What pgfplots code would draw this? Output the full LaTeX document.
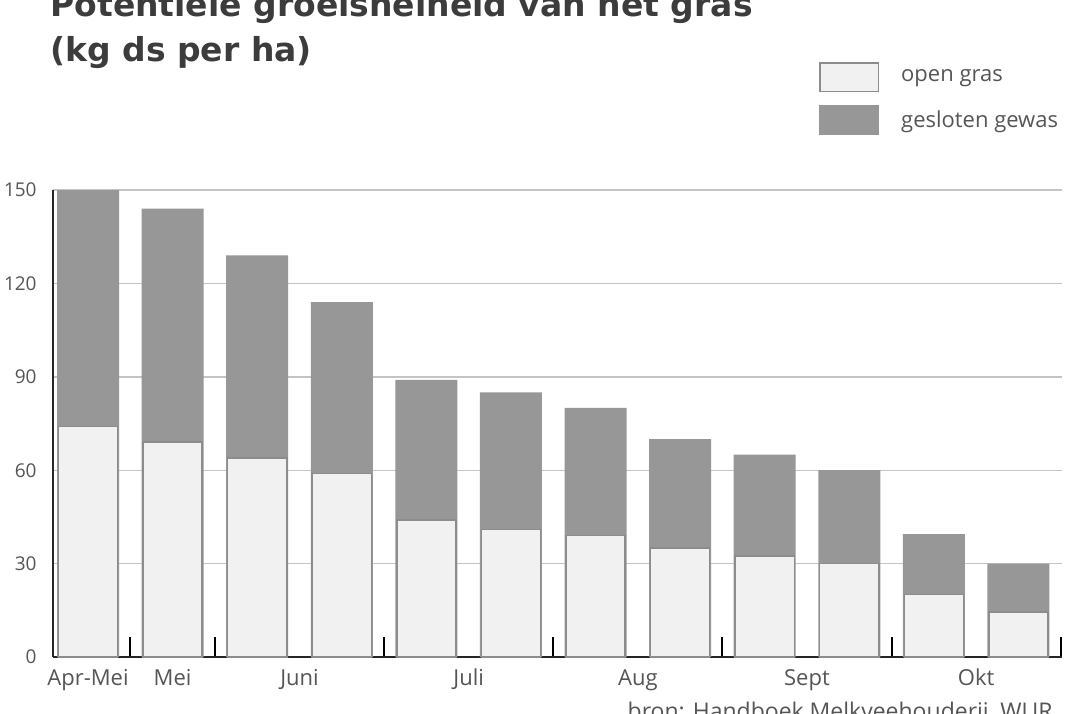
\documentclass[border=0pt]{standalone}
\usepackage{fontspec}
\setmainfont{Open Sans}
\newfontfamily\titlefont{DejaVu Sans}
\usepackage{pgfplots}
\pgfplotsset{compat=1.18}
\usepackage{pgfplotstable}
\definecolor{darkbar}{HTML}{979797}
\definecolor{lightbar}{HTML}{F1F1F1}
\definecolor{lightedge}{HTML}{8C8C8C}
\definecolor{gridc}{HTML}{C4C4C4}
\definecolor{labc}{HTML}{555555}
\definecolor{titc}{HTML}{3C3C3C}
\pgfplotstableread{
x total open
0 150 74
1 144 69
2 129 64
3 114 59
4 89 44
5 85 41
6 80 39
7 70 35
8 65 32.5
9 60 30
10 39.5 20
11 30 14.5
}\datatable
\begin{document}
\begin{tikzpicture}
\useasboundingbox (0,0) rectangle (535pt,356.5pt);
\begin{axis}[
  at={(26.5pt,28pt)}, anchor=south west,
  scale only axis, width=504.5pt, height=233.5pt,
  xmin=-0.414, xmax=11.515, ymin=0, ymax=150,
  enlargelimits=false,
  axis x line=bottom, axis y line=left,
  axis line style={-, line width=1pt, color=black!85},
  ytick={0,30,60,90,120,150},
  ymajorgrids, grid style={gridc, line width=0.7pt},
  y tick style={draw=none},
  yticklabel style={anchor=east, inner sep=0pt, xshift=-8pt, font=\fontsize{9.5pt}{11pt}\selectfont, text=labc},
  /pgf/number format/assume math mode=true,
  xtick={0.5,1.5,3.5,5.5,7.5,9.5,11.5}, xticklabels={},
  tick align=inside,
  x tick style={black, line width=1pt},
  xmajorgrids=false,
  major tick length=10pt,
  extra x ticks={0,1,2.5,4.5,6.5,8.5,10.5},
  extra x tick labels={Apr-Mei,Mei,Juni,Juli,Aug,Sept,Okt},
  extra x tick style={major tick length=0pt, grid=none, xticklabel style={anchor=base, inner sep=0pt, yshift=-14pt, font=\fontsize{11pt}{13pt}\selectfont, text=labc}},
  legend style={at={(axis description cs:0.7592,1.274)}, anchor=north west, draw=none, fill=none, inner sep=0pt,
     row sep=6.5pt, font=\fontsize{11pt}{13pt}\selectfont, text=labc, legend cell align=left,
     nodes={inner sep=0pt, anchor=west}, column sep=0pt},
  reverse legend,
]
\addplot[ybar, bar shift=0pt, bar width=0.733, fill=darkbar, draw=none,
  legend image code/.code={\fill[darkbar] (0pt,-7.5pt) rectangle (30pt,7.5pt); \path (40.5pt,0pt);}]
  table[x=x, y=total] {\datatable};
\addlegendentry{gesloten gewas}
\addplot[ybar, bar shift=0pt, bar width=0.70, fill=lightbar, draw=lightedge, line width=0.75pt,
  legend image code/.code={\draw[fill=lightbar, draw=lightedge, line width=0.75pt] (0.4pt,-7.1pt) rectangle (29.6pt,7.1pt); \path (40.5pt,0pt);}]
  table[x=x, y=open] {\datatable};
\addlegendentry{open gras}
\end{axis}
\node[anchor=base west, inner sep=0pt, text=titc, font=\titlefont\bfseries\fontsize{16.5pt}{19pt}\selectfont] at (25pt,348pt) {Potentiele groeisnelheid van het gras};
\node[anchor=base west, inner sep=0pt, text=titc, font=\titlefont\bfseries\fontsize{16.5pt}{19pt}\selectfont] at (25pt,325.5pt) {(kg ds per ha)};
\node[anchor=base east, inner sep=0pt, text=labc, font=\fontsize{11.5pt}{13pt}\selectfont] at (526.5pt,-3.25pt) {bron: Handboek Melkveehouderij, WUR};
\end{tikzpicture}
\end{document}
